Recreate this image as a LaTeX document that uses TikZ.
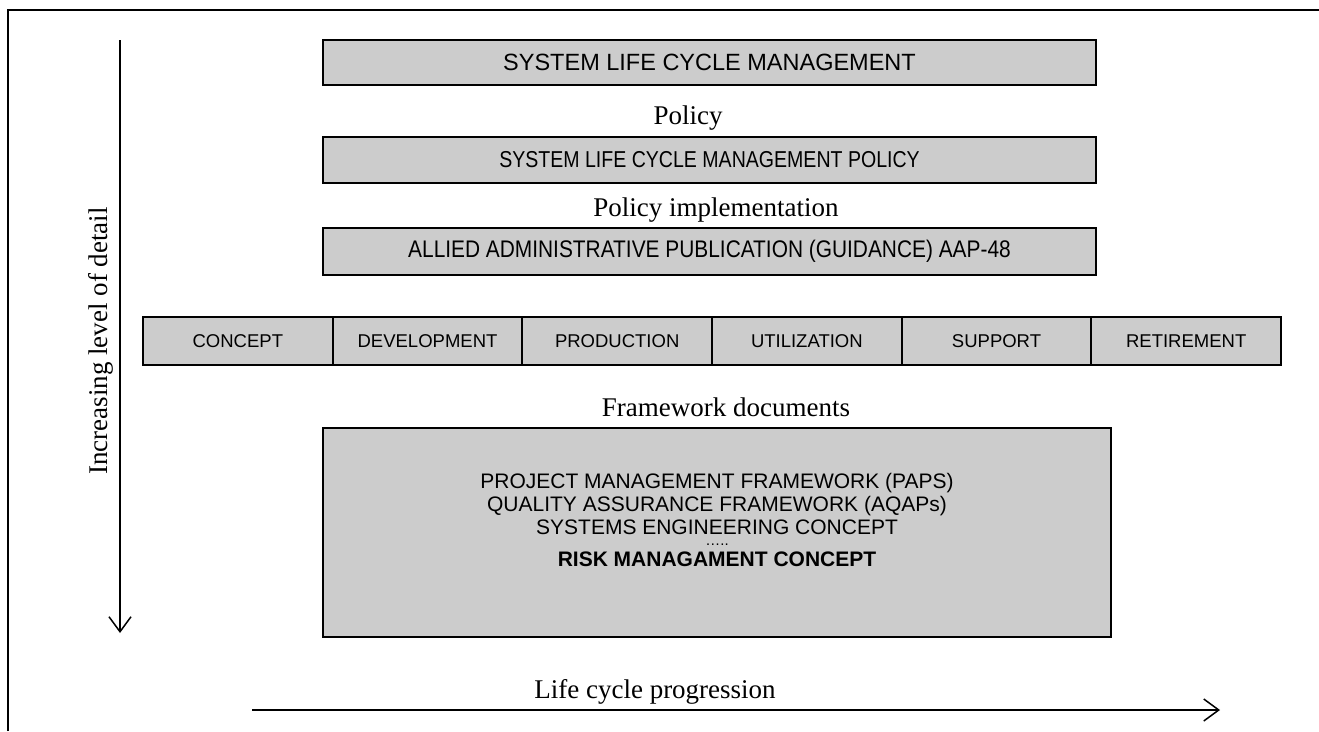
\documentclass[tikz,border=0pt]{standalone}
\usepackage{fontspec}
\setmainfont{Liberation Serif}
\setsansfont{Liberation Sans}
\newfontfamily\narrowsans[FakeStretch=0.85]{Liberation Sans}
\newfontfamily\narrowsanswide[FakeStretch=0.87]{Liberation Sans}
\usepackage{tikz}
\usetikzlibrary{arrows.meta}
\usetikzlibrary{positioning}

\tikzset{
    levelbox/.style={draw, line width=1.8pt, fill=gray!40, inner sep=0pt,
        minimum width=773pt, font=\narrowsans\fontsize{23}{26}\selectfont},
    phasebox/.style={draw, line width=1.8pt, fill=gray!40, inner sep=0pt,
        minimum width=189.67pt, minimum height=48pt,
        font=\sffamily\fontsize{18.5}{22}\selectfont},
    levellabel/.style={font=\rmfamily\fontsize{27}{30}\selectfont, inner sep=0pt},
    axisarrow/.style={line width=1.5pt, -{Straight Barb[length=15pt,width=22pt,line width=1.5pt]}},
}

\begin{document}
\begin{tikzpicture}[x=1pt,y=-1pt]
        \useasboundingbox (0,0) rectangle (1319,731);
        % frame
        \draw[line width=1.5pt] (8,731) -- (8,10) -- (1319,10);

        % levels
        \node[levelbox, minimum height=45pt, font=\sffamily\fontsize{23.5}{26}\selectfont]
            (slcm) at (709.5,62.5) {SYSTEM LIFE CYCLE MANAGEMENT};
        \node[levellabel] (policylbl) at (688,118) {Policy};
        \node[levelbox, minimum height=46pt] (policy) at (709.5,160) {SYSTEM LIFE CYCLE MANAGEMENT POLICY};
        \node[levellabel] (impllbl) at (716,210) {Policy implementation};
        \node[levelbox, minimum height=47pt, font=\narrowsanswide\fontsize{24}{26}\selectfont]
            (aap) at (709.5,251.5) {ALLIED ADMINISTRATIVE PUBLICATION (GUIDANCE) AAP-48};

        % phases
        \foreach \phase [count=\i] in {CONCEPT,DEVELOPMENT,PRODUCTION,UTILIZATION,SUPPORT,RETIREMENT} {
            \node[phasebox] (ph\i) at ({143+189.67*(\i-0.5)},341) {\phase};
        }

        % framework documents
        \node[levellabel] (fwlbl) at (726,407) {Framework documents};
        \node[draw, line width=1.8pt, fill=gray!40, minimum width=788pt, minimum height=209pt]
            (fw) at (717,532.5) {};
        \node[align=center, inner sep=0pt, font=\sffamily\fontsize{21}{23}\selectfont]
            (fwlist) at (717,520) {PROJECT MANAGEMENT FRAMEWORK (PAPS)\\
            QUALITY ASSURANCE FRAMEWORK (AQAPs)\\
            SYSTEMS ENGINEERING CONCEPT\\[-12pt]
            {\fontsize{15}{16}\selectfont …..}\\[-2pt]
            \textbf{RISK MANAGAMENT CONCEPT}};

        % axes
        \coordinate (detailtop) at (120,40);
        \coordinate (detailbot) at (120,633);
        \draw[axisarrow] (detailtop) -- (detailbot);
        \node[levellabel, rotate=90] (detaillbl) at (101,341) {Increasing level of detail};

        \coordinate (lifestart) at (252,710);
        \coordinate (lifeend) at (1220,710);
        \draw[axisarrow] (lifestart) -- (lifeend);
        \node[levellabel] (lifelbl) at (655,692) {Life cycle progression};
    \end{tikzpicture}
\end{document}
